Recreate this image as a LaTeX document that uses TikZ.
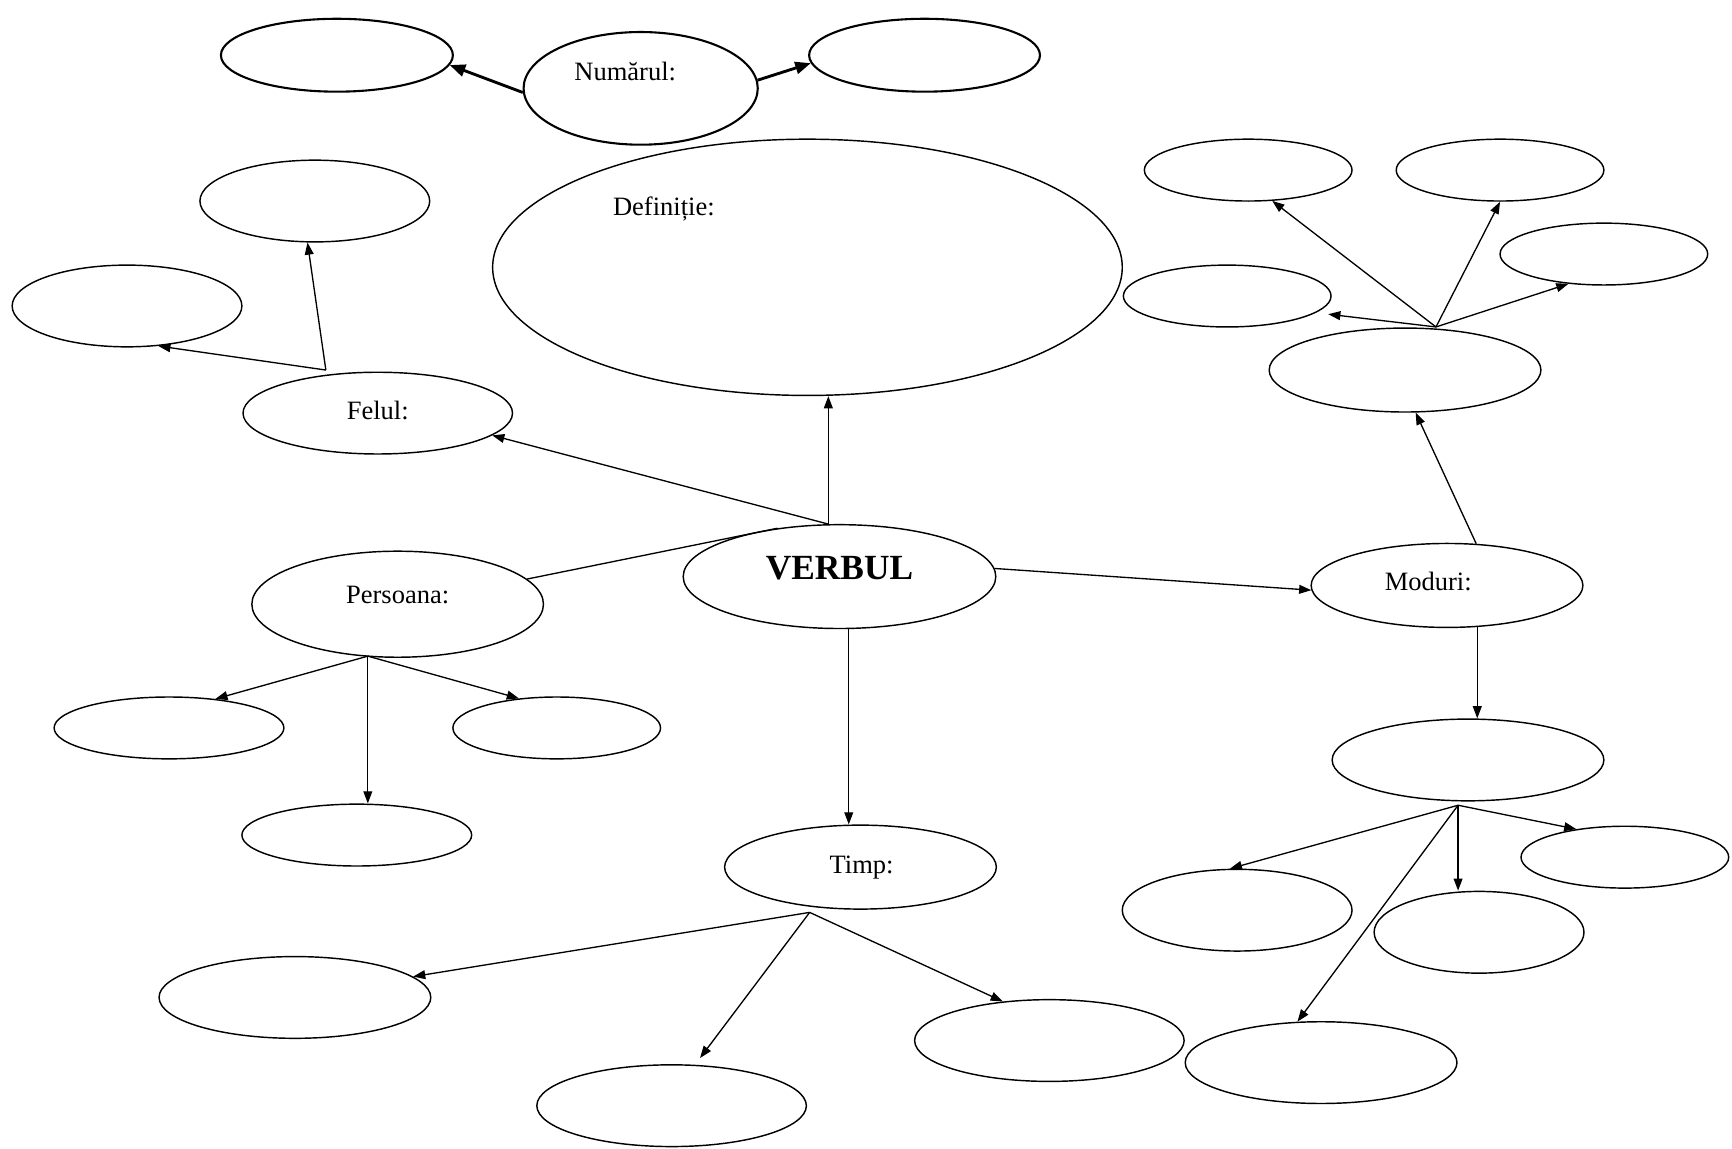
\documentclass[tikz,border=0pt]{standalone}
\usepackage{fontspec}
\setmainfont{Liberation Serif}
\usetikzlibrary{shapes.geometric,arrows.meta}
\tikzset{
  ell/.style={ellipse,draw,line width=1.3pt,inner sep=0pt},
  ellthick/.style={ellipse,draw,line width=1.9pt,inner sep=0pt},
  arr/.style={line width=1.2pt,-{Triangle[length=11pt,width=8pt]}},
  arrthick/.style={line width=2.6pt,-{Triangle[length=14pt,width=11pt]}},
  plain/.style={line width=1.2pt},
  txt/.style={anchor=base,inner sep=0pt,font=\fontsize{24}{28}\selectfont},
  bigtxt/.style={anchor=base,inner sep=0pt,font=\fontsize{32}{36}\selectfont\bfseries}
}
\begin{document}
\begin{tikzpicture}[x=1pt,y=-1pt]
\useasboundingbox (0,0) rectangle (1568,1040);
% Numarul group
\node[ellthick,minimum width=210pt,minimum height=66pt] (nL) at (305,50) {};
\node[ellthick,minimum width=212pt,minimum height=102pt] (num) at (580,80) {};
\node[ellthick,minimum width=209pt,minimum height=66pt] (nR) at (837,50) {};
\node[txt] (tnum) at (566,73) {Numărul:};
% Definitie
\node[ell,minimum width=570pt,minimum height=232pt] (def) at (731,242) {};
\node[txt] (tdef) at (601,195) {Definiție:};
% Felul
\node[ell,minimum width=208pt,minimum height=74pt] (fT) at (285,182) {};
\node[ell,minimum width=208pt,minimum height=74pt] (fL) at (115,277) {};
\node[ell,minimum width=244pt,minimum height=74pt] (fel) at (342,374) {};
\node[txt] (tfel) at (342,380) {Felul:};
% Verbul
\node[ell,minimum width=283pt,minimum height=94pt] (verb) at (760,522) {};
\node[bigtxt] (tverb) at (760,525) {VERBUL};
% Persoana
\node[ell,minimum width=264pt,minimum height=96pt] (pers) at (360,547) {};
\node[txt] (tpers) at (360,546) {Persoana:};
\node[ell,minimum width=208pt,minimum height=56pt] (pL) at (153,659) {};
\node[ell,minimum width=188pt,minimum height=56pt] (pR) at (504,659) {};
\node[ell,minimum width=208pt,minimum height=56pt] (pB) at (323,756) {};
% Timp
\node[ell,minimum width=246pt,minimum height=76pt] (timp) at (779,785) {};
\node[txt] (ttimp) at (780,791) {Timp:};
\node[ell,minimum width=246pt,minimum height=74pt] (tL) at (267,903) {};
\node[ell,minimum width=244pt,minimum height=74pt] (tB) at (608,1001) {};
\node[ell,minimum width=244pt,minimum height=74pt] (tR) at (950,942) {};
% Moduri
\node[ell,minimum width=246pt,minimum height=76pt] (mod) at (1310,530) {};
\node[txt] (tmod) at (1293,535) {Moduri:};
\node[ell,minimum width=246pt,minimum height=76pt] (mT) at (1272,335) {};
\node[ell,minimum width=188pt,minimum height=56pt] (mTL) at (1130,154) {};
\node[ell,minimum width=188pt,minimum height=56pt] (mTR) at (1358,154) {};
\node[ell,minimum width=188pt,minimum height=56pt] (mR) at (1452,230) {};
\node[ell,minimum width=188pt,minimum height=56pt] (mL) at (1111,268) {};
\node[ell,minimum width=246pt,minimum height=74pt] (mB) at (1329,688) {};
\node[ell,minimum width=208pt,minimum height=74pt] (bL) at (1120,824) {};
\node[ell,minimum width=190pt,minimum height=74pt] (bM) at (1339,844) {};
\node[ell,minimum width=188pt,minimum height=56pt] (bR) at (1471,776) {};
\node[ell,minimum width=246pt,minimum height=74pt] (bBL) at (1196,962) {};
% hub points
\coordinate (hubF) at (295,335);
\coordinate (hubP) at (333,594);
\coordinate (hubT) at (733,826);
\coordinate (hubM) at (1300,296);
\coordinate (hubB) at (1320,729);
% connectors
\draw[arrthick] (num.182) -- (nL.-5);
\draw[arrthick] (num.4) -- (nR.184);
\draw[arr] (verb.102) -- (verb.102 |- def.south);
\draw[arr] (verb.102) -- (fel.-11);
\draw[plain] (pers.11) -- (verb.142);
\draw[arr] (hubF) -- (fT.-100);
\draw[arr] (hubF) -- (fL.-52);
\draw[arr] (hubP) -- (pL.32);
\draw[arr] (hubP) -- (pR.142);
\draw[arr] (hubP) -- (hubP |- pB.north);
\draw[arr] (verb.-80) -- (verb.-80 |- timp.north);
\draw[arr] (verb.3.5) -- (mod.182);
\draw[arr] (hubT) -- (tL.10);
\draw[arr] (hubT) -- ([shift={(6,-6)}]tB.62);
\draw[arr] (hubT) -- (tR.140);
\draw[arr] (mod.55) -- (mT.-76);
\draw[arr] (hubM) -- (mTL.-52);
\draw[arr] (hubM) -- (mTR.south);
\draw[arr] (hubM) -- (mR.-140);
\draw[arr] (hubM) -- ([shift={(14,0)}]mL.-12);
\draw[arr] (mod.-54) -- (mod.-54 |- mB.north);
\draw[arr] (hubB) -- (bL.100);
\draw[arr] (hubB) -- (hubB |- bM.north);
\draw[arr] (hubB) -- (bR.150);
\draw[arr] (hubB) -- (bBL.120);
\end{tikzpicture}
\end{document}
